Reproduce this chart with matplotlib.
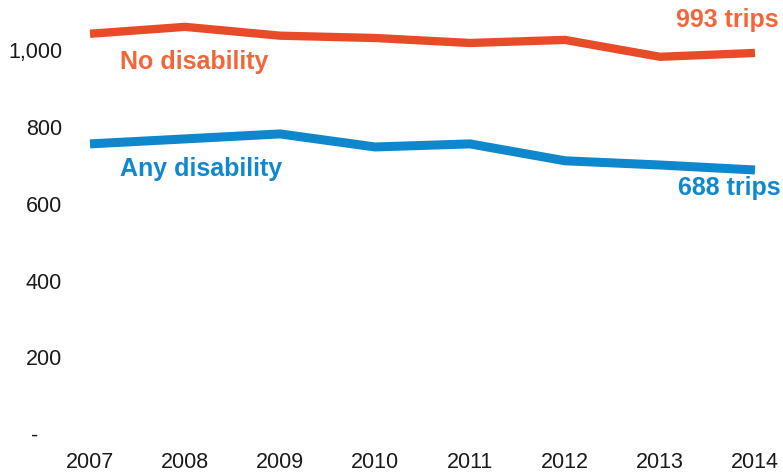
import matplotlib.pyplot as plt

# trips per person per year
years = [2007, 2008, 2009, 2010, 2011, 2012, 2013, 2014]
no_disability = [1043, 1061, 1038, 1032, 1019, 1027, 983, 993]
any_disability = [756, 769, 782, 748, 756, 712, 701, 688]

y_ticks = [0, 200, 400, 600, 800, 1000]
y_labels = ['-    ', '200', '400', '600', '800', '1,000']

orange_line = '#E84B28'
orange_text = '#F2663A'
blue_line = '#0F87CD'
blue_text = '#1088CF'

plt.rcParams['font.family'] = ['Liberation Sans', 'DejaVu Sans']

fig = plt.figure(figsize=(7.83, 4.73), dpi=100)
ax = fig.add_axes([90 / 783, 39 / 473, 665 / 783, 434 / 473])

ax.plot(years, no_disability, color=orange_line, lw=6, solid_capstyle='butt',
        solid_joinstyle='round', clip_on=False)
ax.plot(years, any_disability, color=blue_line, lw=6.5, solid_capstyle='butt',
        solid_joinstyle='round', clip_on=False)

ax.set_xlim(2007, 2014)
ax.set_ylim(0, 1131)
ax.set_xticks(years)
ax.set_xticklabels([str(y) for y in years])
ax.set_yticks(y_ticks)
ax.set_yticklabels(y_labels)
ax.tick_params(axis='both', length=0, labelsize=15.5, colors='#1a1a1a')
ax.tick_params(axis='y', pad=20)
ax.tick_params(axis='x', pad=13)
for s in ax.spines.values():
    s.set_visible(False)

ax.text(2007.32, 970, 'No disability', color=orange_text, fontsize=18,
        fontweight='bold', ha='left', va='center')
ax.text(2007.32, 691, 'Any disability', color=blue_text, fontsize=18,
        fontweight='bold', ha='left', va='center')
ax.text(2014.25, 1079, '993 trips', color=orange_text, fontsize=18,
        fontweight='bold', ha='right', va='center', clip_on=False)
ax.text(2014.27, 641, '688 trips', color=blue_text, fontsize=18,
        fontweight='bold', ha='right', va='center', clip_on=False)

fig.savefig('out.png', dpi=100)
